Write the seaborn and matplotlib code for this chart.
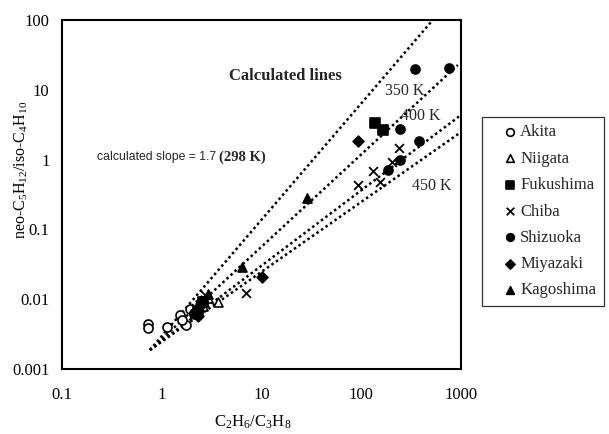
import numpy as np
import pandas as pd
import matplotlib
matplotlib.use("Agg")
import matplotlib.pyplot as plt
import seaborn as sns

# Measured ratios per gas field region
akita_x = [0.73, 0.73, 1.13, 1.52, 1.75, 1.92, 1.60, 2.10]
akita_y = [0.0044, 0.0039, 0.0040, 0.0059, 0.0042, 0.0072, 0.0050, 0.0064]
niigata_x = [3.66, 2.90, 2.60]
niigata_y = [0.0091, 0.0105, 0.0080]
fukushima_x = [137, 164, 2.30, 2.60]
fukushima_y = [3.34, 2.66, 0.0068, 0.0090]
chiba_x = [238, 203, 131, 92.5, 153, 6.98, 2.70, 2.20]
chiba_y = [1.47, 0.92, 0.69, 0.43, 0.48, 0.0123, 0.0115, 0.0075]
shizuoka_x = [344, 755, 244, 378, 244, 185, 2.40, 2.10]
shizuoka_y = [19.9, 20.5, 2.74, 1.85, 0.99, 0.71, 0.0082, 0.0062]
miyazaki_x = [92.5, 10.1, 2.30, 2.50]
miyazaki_y = [1.85, 0.0208, 0.0058, 0.0095]
kagoshima_x = [28.5, 6.37, 2.90, 2.20]
kagoshima_y = [0.282, 0.0289, 0.0120, 0.0070]

# Calculated equilibrium lines (start / end points)
calc_labels = ["298 K", "350 K", "400 K", "450 K"]
calc_x0 = [0.76, 0.76, 0.76, 0.76]
calc_y0 = [0.00187, 0.00187, 0.00187, 0.00187]
calc_x1 = [521, 929, 1000, 1000]
calc_y1 = [100, 22.6, 4.36, 2.48]

x_ticks = [0.1, 1, 10, 100, 1000]
x_ticklabels = ["0.1", "1", "10", "100", "1000"]
y_ticks = [0.001, 0.01, 0.1, 1, 10, 100]
y_ticklabels = ["0.001", "0.01", "0.1", "1", "10", "100"]

sns.set_theme(style="white")
plt.rcParams["font.family"] = ["Liberation Serif", "DejaVu Serif"]
plt.rcParams["mathtext.fontset"] = "custom"
plt.rcParams["mathtext.rm"] = "Liberation Serif"
plt.rcParams["mathtext.it"] = "Liberation Serif:italic"

fig = plt.figure(figsize=(6.09, 4.34), dpi=100)
ax = fig.add_axes([62 / 609, 1 - 369 / 434, 399 / 609, 349 / 434])
ax.set_xscale("log")
ax.set_yscale("log")

lines = pd.DataFrame({
    "line": np.repeat(calc_labels, 2),
    "x": np.ravel(np.column_stack([calc_x0, calc_x1])),
    "y": np.ravel(np.column_stack([calc_y0, calc_y1])),
})
for lab in calc_labels:
    sub = lines[lines["line"] == lab]
    sns.lineplot(data=sub, x="x", y="y", ax=ax, color="black",
                 linestyle=(0, (1, 1.2)), linewidth=1.8, sort=False,
                 estimator=None)

series = [
    ("Akita", akita_x, akita_y, "o", "white"),
    ("Niigata", niigata_x, niigata_y, "^", "white"),
    ("Fukushima", fukushima_x, fukushima_y, "s", "black"),
    ("Chiba", chiba_x, chiba_y, "x", "black"),
    ("Shizuoka", shizuoka_x, shizuoka_y, "o", "black"),
    ("Miyazaki", miyazaki_x, miyazaki_y, "D", "black"),
    ("Kagoshima", kagoshima_x, kagoshima_y, "^", "black"),
]
for name, xs, ys, mk, fc in series:
    size = 30 if mk == "D" else 42
    if mk == "x":
        sns.scatterplot(x=xs, y=ys, ax=ax, marker="x", color="black",
                        s=40, linewidth=1.3, label=name, zorder=3)
    else:
        sns.scatterplot(x=xs, y=ys, ax=ax, marker=mk, facecolor=fc,
                        edgecolor="black", s=size, linewidth=1.2,
                        label=name, zorder=3)

ax.set_xlim(0.1, 1000)
ax.set_ylim(0.001, 100)
ax.set_xticks(x_ticks)
ax.set_xticklabels(x_ticklabels)
ax.set_yticks(y_ticks)
ax.set_yticklabels(y_ticklabels)
ax.minorticks_off()
ax.tick_params(axis="both", direction="in", length=3, width=0.8,
               labelsize=12, colors="black")
ax.tick_params(axis="x", pad=13)
ax.tick_params(axis="y", pad=9)
for sp in ax.spines.values():
    sp.set_color("black")
    sp.set_linewidth(1.5)

ax.set_xlabel(r"C$_2$H$_6$/C$_3$H$_8$", fontsize=12, color="black")
ax.set_ylabel(r"neo-C$_5$H$_{12}$/iso-C$_4$H$_{10}$", fontsize=11.5,
              color="black")
ax.xaxis.set_label_coords(0.479, -0.128)
ax.yaxis.set_label_coords(-0.079, 0.57)

ax.text(17.5, 15.8, "Calculated lines", fontsize=12, fontweight="bold",
        ha="center", va="center")
ax.text(0.224, 1.09, "calculated slope = 1.7", fontsize=8.8,
        family=["Liberation Sans", "DejaVu Sans"], ha="left", va="center")
ax.text(3.75, 1.09, "(298 K)", fontsize=10.5, fontweight="bold",
        ha="left", va="center")
ax.text(274, 9.6, "350 K", fontsize=11.5, ha="center", va="center")
ax.text(395, 4.2, "400 K", fontsize=11.5, ha="center", va="center")
ax.text(509, 0.42, "450 K", fontsize=11.5, ha="center", va="center")

leg = ax.legend(loc="upper left", bbox_to_anchor=(482 / 609, 1 - 117 / 434),
                bbox_transform=fig.transFigure, frameon=True, fancybox=False,
                edgecolor="black", fontsize=12, labelspacing=0.62,
                handletextpad=-0.6, handlelength=2.45, borderpad=0.45,
                borderaxespad=0, markerscale=0.85)
leg.get_frame().set_linewidth(0.9)

fig.savefig("out.png", dpi=100, facecolor="white")
